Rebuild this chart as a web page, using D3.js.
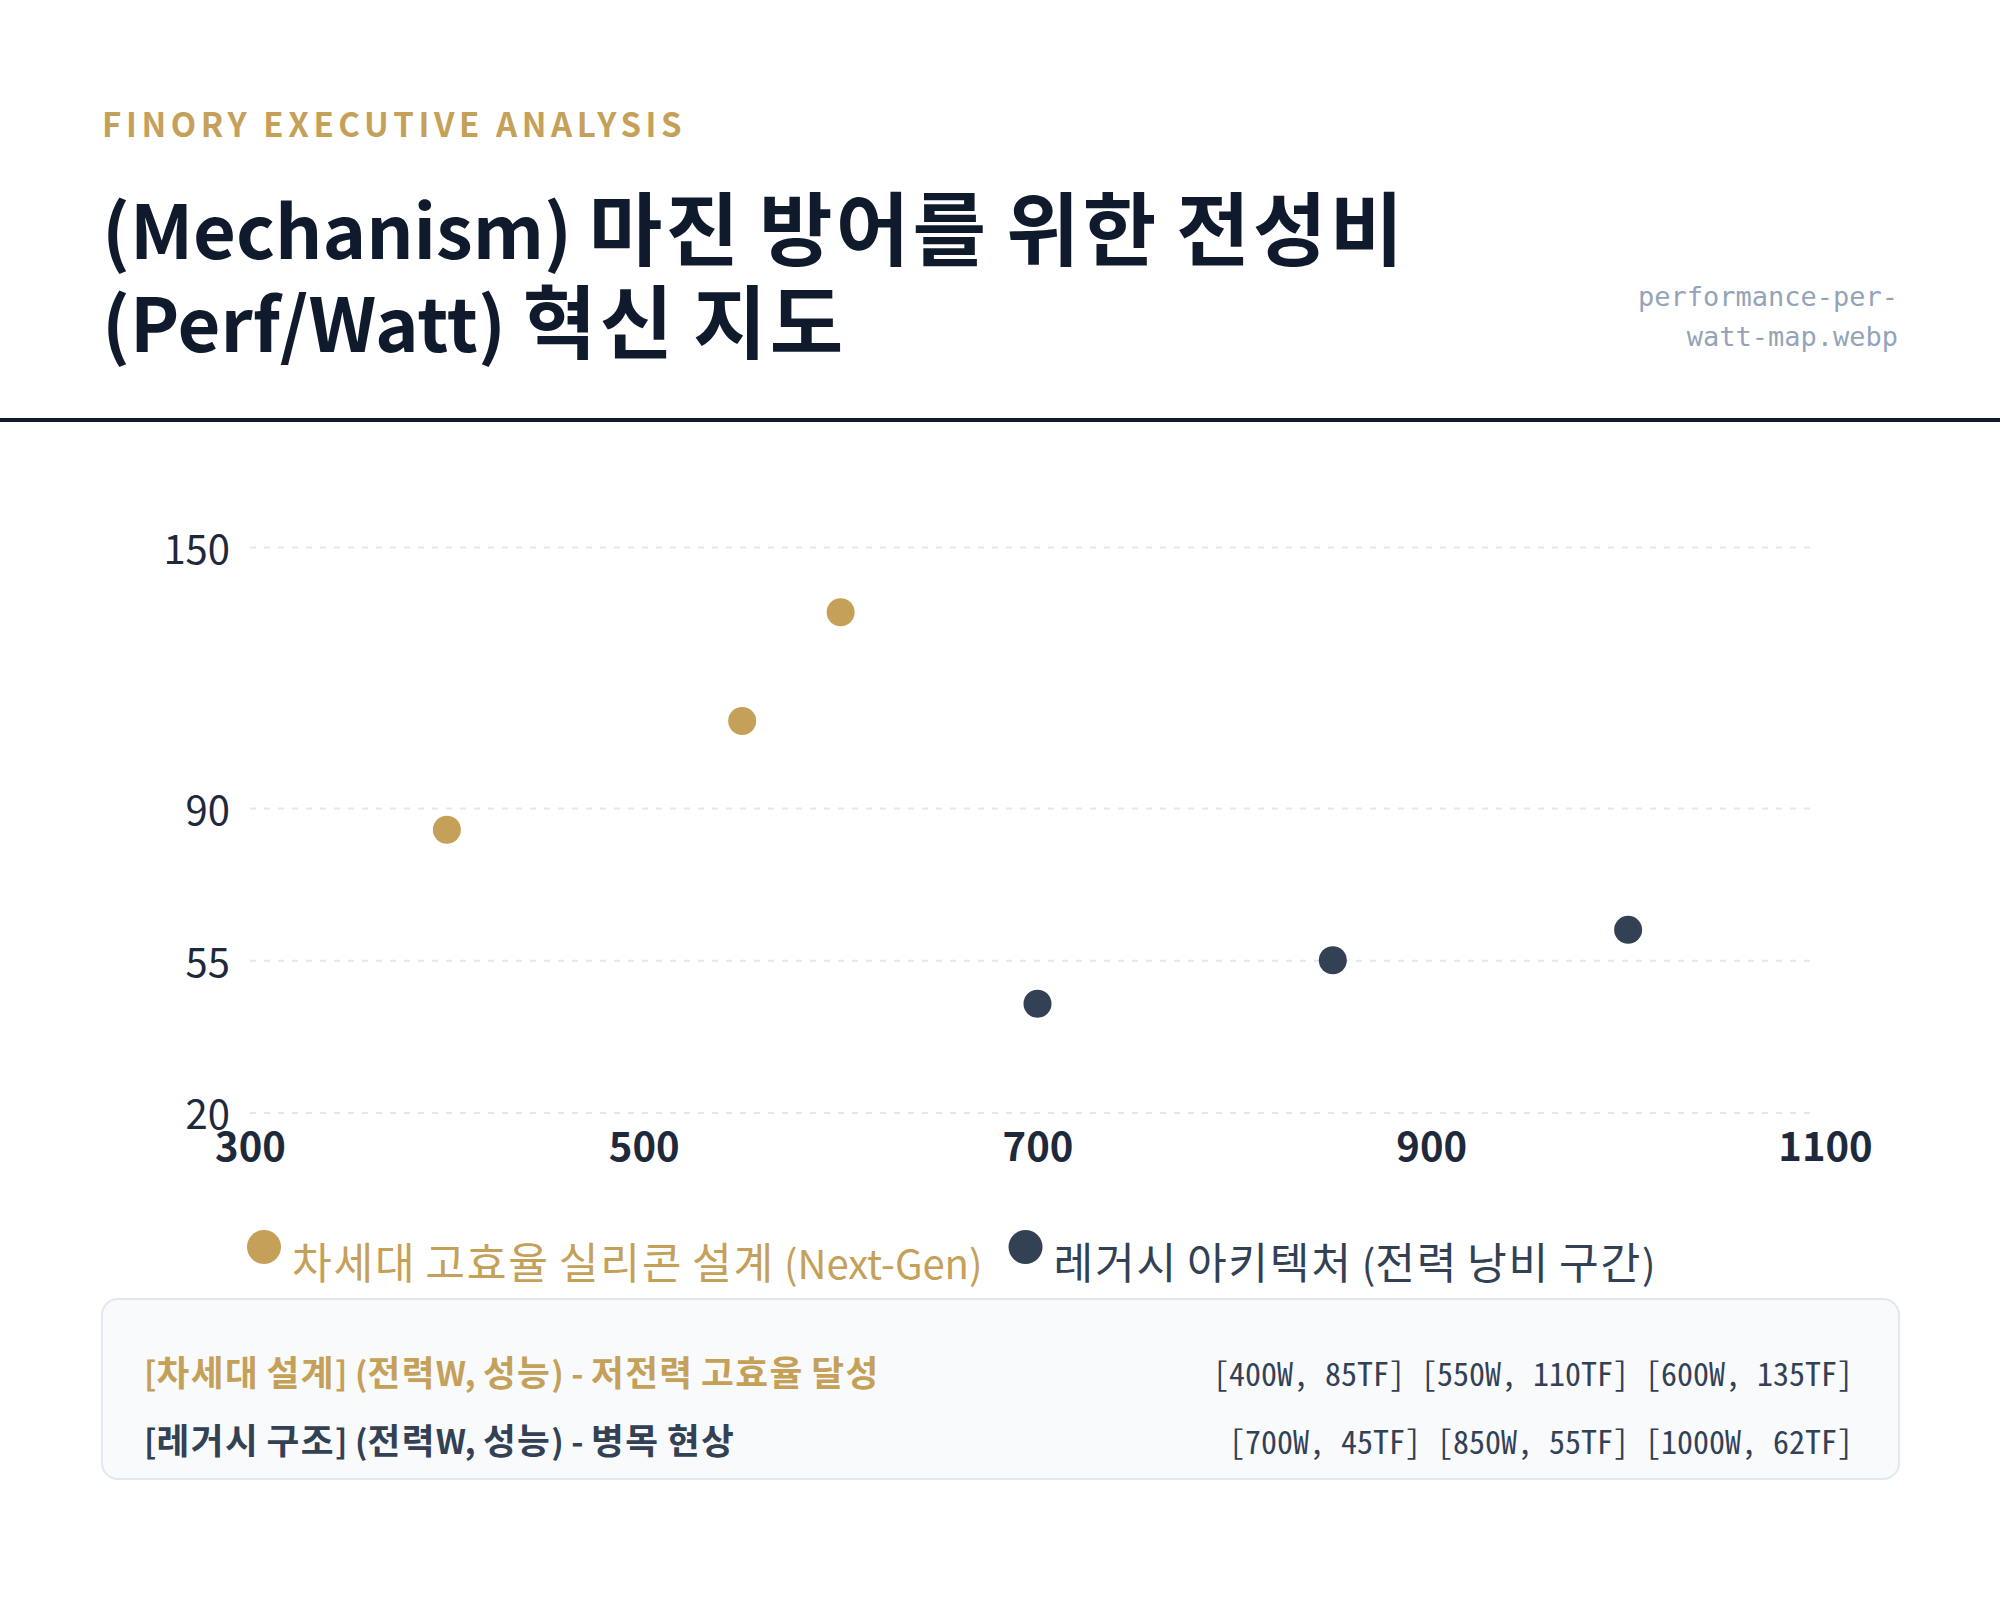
<!DOCTYPE html>
<html>
<head>
<meta charset="utf-8">
<script src="https://cdn.jsdelivr.net/npm/d3@7.9.0/dist/d3.min.js"></script>
<style>
  body { margin: 0; background: #fff; }
  svg { display: block; }
  .kr { font-family: 'Noto Sans CJK KR', 'Noto Sans', sans-serif; }
</style>
</head>
<body>
<div id="chart"></div>
<script>
// chart values
const nextGenPower = [400, 550, 600];
const nextGenPerf = [85, 110, 135];
const legacyPower = [700, 850, 1000];
const legacyPerf = [45, 55, 62];

const xTicks = [300, 500, 700, 900, 1100];
const yTicks = [20, 55, 90, 150];

const seriesNames = ['차세대 고효율 실리콘 설계 (Next-Gen)', '레거시 아키텍처 (전력 낭비 구간)'];
const tableLabels = ['[차세대 설계] (전력W, 성능) - 저전력 고효율 달성', '[레거시 구조] (전력W, 성능) - 병목 현상'];
const colors = ['#C5A059', '#334155'];

const titleLines = ['(Mechanism) 마진 방어를 위한 전성비', '(Perf/Watt) 혁신 지도'];
const fileLines = ['performance-per-', 'watt-map.webp'];

const width = 2000;
const height = 1622;

// hangul runs get a slightly larger size and wider advance
const isHangul = (c) => /[\u1100-\u11FF\u3130-\u318F\uAC00-\uD7AF]/.test(c);
function richText(sel, str, size) {
  const runs = [];
  for (const c of str) {
    const h = isHangul(c);
    if (runs.length && runs[runs.length - 1].h === h) runs[runs.length - 1].s += c;
    else runs.push({ h, s: c });
  }
  sel.attr('font-size', size);
  runs.forEach((r) => {
    const t = sel.append('tspan').text(r.s);
    if (r.h) {
      t.attr('font-size', size * 1.08).attr('letter-spacing', size * 1.08 * 0.04);
    }
  });
  return sel;
}

const svg = d3.select('#chart')
  .append('svg')
  .attr('width', width)
  .attr('height', height)
  .attr('class', 'kr');

// header
svg.append('text')
  .attr('x', 102)
  .attr('y', 137)
  .attr('fill', '#C5A059')
  .attr('font-size', 33)
  .attr('font-weight', 700)
  .attr('letter-spacing', 4.6)
  .text('FINORY EXECUTIVE ANALYSIS');

titleLines.forEach((line, i) => {
  const t = svg.append('text')
    .attr('x', 102)
    .attr('y', 259 + i * 93)
    .attr('fill', '#0f1b2d')
    .attr('font-weight', 700);
  richText(t, line, 74);
});

svg.append('g')
  .selectAll('text')
  .data(fileLines)
  .join('text')
  .attr('x', 1898)
  .attr('y', (d, i) => 306 + i * 40)
  .attr('text-anchor', 'end')
  .attr('fill', '#94a3b8')
  .attr('font-family', "'DejaVu Sans Mono', monospace")
  .attr('font-size', 27)
  .text((d) => d);

svg.append('rect')
  .attr('x', 0)
  .attr('y', 418)
  .attr('width', width)
  .attr('height', 4)
  .attr('fill', '#0f1b2d');

// plot
const xScale = d3.scaleLinear().domain([300, 1100]).range([250, 1825]);
const yScale = d3.scaleLinear().domain([20, 150]).range([1112.5, 547]);

const yAxis = svg.append('g')
  .attr('transform', 'translate(250, 0)')
  .call(
    d3.axisLeft(yScale)
      .tickValues(yTicks)
      .tickSize(-(1818 - 250))
      .tickPadding(20)
  );
yAxis.select('.domain').remove();
yAxis.selectAll('line')
  .attr('stroke', '#e2e8f0')
  .attr('stroke-width', 2)
  .attr('stroke-dasharray', '6,8');
yAxis.selectAll('text')
  .attr('fill', '#1e293b')
  .attr('font-size', 40)
  .attr('font-family', "'Noto Sans CJK KR', sans-serif")
  .attr('dy', '0.4em');

const xAxis = svg.append('g')
  .attr('transform', 'translate(0, 1112.5)')
  .call(
    d3.axisBottom(xScale)
      .tickValues(xTicks)
      .tickFormat(d3.format('d'))
      .tickSize(0)
      .tickPadding(20)
  );
xAxis.select('.domain').remove();
xAxis.selectAll('text')
  .attr('fill', '#1e293b')
  .attr('font-size', 40)
  .attr('font-weight', 700)
  .attr('font-family', "'Noto Sans CJK KR', sans-serif");

const series = [
  nextGenPower.map((p, i) => ({ power: p, perf: nextGenPerf[i] })),
  legacyPower.map((p, i) => ({ power: p, perf: legacyPerf[i] })),
];

series.forEach((pts, s) => {
  svg.append('g')
    .selectAll('circle')
    .data(pts)
    .join('circle')
    .attr('cx', (d) => xScale(d.power))
    .attr('cy', (d) => yScale(d.perf))
    .attr('r', 14)
    .attr('fill', colors[s]);
});

// legend
const legend = svg.append('g');
let lx = 247;
seriesNames.forEach((name, i) => {
  legend.append('circle')
    .attr('cx', lx + 17)
    .attr('cy', 1247)
    .attr('r', 17)
    .attr('fill', colors[i]);
  const t = legend.append('text')
    .attr('x', lx + 45)
    .attr('y', 1279)
    .attr('fill', colors[i]);
  richText(t, name, 40);
  lx += 45 + t.node().getComputedTextLength() + 26;
});

// data table
svg.append('rect')
  .attr('x', 102)
  .attr('y', 1299)
  .attr('width', 1797)
  .attr('height', 180)
  .attr('rx', 16)
  .attr('fill', '#f8fafc')
  .attr('stroke', '#e2e8f0')
  .attr('stroke-width', 2);

const fmt = (w, tf) => `[${w}W, ${tf}TF]`;
const tableValues = [
  nextGenPower.map((w, i) => fmt(w, nextGenPerf[i])).join(' '),
  legacyPower.map((w, i) => fmt(w, legacyPerf[i])).join(' '),
];

tableLabels.forEach((label, i) => {
  const y = 1386 + i * 68;
  const t = svg.append('text')
    .attr('x', 144)
    .attr('y', y)
    .attr('fill', colors[i])
    .attr('font-weight', 700);
  richText(t, label, 33);
  svg.append('text')
    .attr('x', 1853)
    .attr('y', y)
    .attr('text-anchor', 'end')
    .attr('fill', '#334155')
    .attr('font-family', "'Noto Sans Mono CJK KR', 'Noto Sans Mono CJK SC', monospace")
    .attr('font-size', 32)
    .text(tableValues[i]);
});
</script>
</body>
</html>
